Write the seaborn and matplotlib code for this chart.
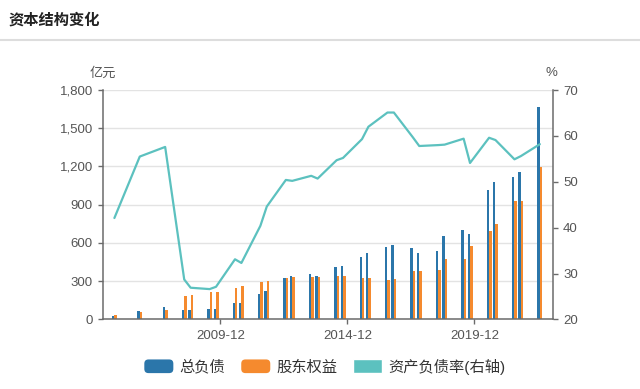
import pandas as pd
import numpy as np
import matplotlib
matplotlib.use('Agg')
import matplotlib.pyplot as plt
import seaborn as sns
from matplotlib.patches import Patch, FancyBboxPatch
from matplotlib.legend_handler import HandlerPatch
from matplotlib.lines import Line2D
from matplotlib.ticker import FuncFormatter

# report dates
dates = ['2005-09-30', '2006-09-30', '2007-09-30',
         '2008-06-30', '2008-09-30', '2009-06-30', '2009-09-30',
         '2010-06-30', '2010-09-30', '2011-06-30', '2011-09-30',
         '2012-06-30', '2012-09-30', '2013-06-30', '2013-09-30',
         '2014-06-30', '2014-09-30', '2015-06-30', '2015-09-30',
         '2016-06-30', '2016-09-30', '2017-06-30', '2017-09-30',
         '2018-06-30', '2018-09-30', '2019-06-30', '2019-09-30',
         '2020-06-30', '2020-09-30', '2021-06-30', '2021-09-30',
         '2022-06-30']
# 总负债 (亿元)
debt = [26, 68, 99, 73, 73, 78, 83, 125, 128, 196, 222, 327, 337, 353, 340,
        408, 416, 487, 523, 565, 583, 562, 520, 536, 656, 698, 670, 1018, 1075,
        1120, 1156, 1669]
# 股东权益 (亿元)
equity = [36, 55, 73, 183, 193, 217, 217, 248, 261, 293, 303, 322, 335, 335, 332,
          337, 337, 327, 322, 306, 314, 382, 382, 387, 473, 476, 573, 691, 750,
          926, 926, 1198]
# 资产负债率 (%)
ratio = [42.1, 55.5, 57.6, 28.7, 26.9, 26.6, 27.1, 33.1, 32.3, 40.4, 44.6, 50.4,
         50.2, 51.3, 50.7, 54.7, 55.2, 59.3, 62.0, 65.1, 65.1, 59.7, 57.8, 58.0,
         58.1, 59.4, 54.1, 59.6, 59.1, 54.9, 55.6, 58.2]

tick_dates = ['2009-12-01', '2014-12-01', '2019-12-01']
tick_labels = ['2009-12', '2014-12', '2019-12']
series_names = ['总负债', '股东权益', '资产负债率(右轴)']

blue = '#2B76AA'
orange = '#F58A2E'
teal = '#5CC1BF'


def to_year(s):
    d = pd.to_datetime(pd.Series(s))
    return (d - pd.Timestamp('2000-01-01')).dt.days / 365.25 + 2000


t = to_year(dates).values
df = pd.DataFrame({
    't': np.concatenate([t, t]),
    'value': debt + equity,
    'series': [series_names[0]] * len(t) + [series_names[1]] * len(t),
})
line_df = pd.DataFrame({'t': t, 'ratio': ratio})

sns.set_style('white')
plt.rcParams['font.family'] = ['Liberation Sans', 'Noto Sans CJK SC']
plt.rcParams['axes.unicode_minus'] = False

fig = plt.figure(figsize=(6.4, 3.89), dpi=100)
ax = fig.add_axes([0.1614, 0.179, 0.7022, 0.5895])

sns.barplot(data=df, x='t', y='value', hue='series', native_scale=True,
            hue_order=series_names[:2], palette=[blue, orange], saturation=1,
            errorbar=None, width=0.78, linewidth=0, legend=False, ax=ax)

ax2 = ax.twinx()
sns.lineplot(data=line_df, x='t', y='ratio', color=teal, linewidth=1.6, ax=ax2)

xl = (2005.31, 2023.0)
ax.set_xlim(xl)
ax2.set_xlim(xl)
ax.set_ylim(0, 1800)
ax.set_yticks(range(0, 1801, 300))
ax.yaxis.set_major_formatter(FuncFormatter(lambda v, p: f'{int(v):,}'))
ax2.set_ylim(20, 70)
ax2.set_yticks(range(20, 71, 10))
ax.set_xticks(to_year(tick_dates).values)
ax.set_xticklabels(tick_labels)
ax.set_xlabel('')
ax.set_ylabel('')
ax2.set_xlabel('')
ax2.set_ylabel('')

ax.yaxis.grid(True, color='#E3E3E3', linewidth=1)
ax.set_axisbelow(True)

axis_col = '#6B6B6B'
for a in (ax, ax2):
    for s in a.spines.values():
        s.set_visible(False)
ax.spines['left'].set_visible(True)
ax.spines['bottom'].set_visible(True)
ax2.spines['right'].set_visible(True)
for s in (ax.spines['left'], ax.spines['bottom'], ax2.spines['right']):
    s.set_color(axis_col)
    s.set_linewidth(1.1)

ax.tick_params(axis='y', left=True, length=3.5, width=1, color=axis_col,
               labelsize=9.5, labelcolor='#555555', pad=4)
ax.tick_params(axis='x', bottom=True, length=3.5, width=1, color=axis_col,
               labelsize=9.5, labelcolor='#555555', pad=4)
ax2.tick_params(axis='y', right=True, length=3.5, width=1, color=axis_col,
                labelsize=9.5, labelcolor='#555555', pad=4)

# title and header line
fig.text(0.013, 1 - 20.5 / 389, '资本结构变化', fontsize=11, fontweight='bold',
         color='#222222', va='center', ha='left')
fig.add_artist(Line2D([0, 1], [1 - 40 / 389] * 2, color='#DDDDDD', linewidth=1.5,
                      transform=fig.transFigure))
fig.text(103 / 640, 1 - 74 / 389, '亿元', fontsize=9.5, color='#555555',
         ha='center', va='center')
fig.text(551 / 640, 1 - 73 / 389, '%', fontsize=9.5, color='#555555',
         ha='center', va='center')


class RoundHandler(HandlerPatch):
    def create_artists(self, legend, orig_handle, xdescent, ydescent, width,
                       height, fontsize, trans):
        p = FancyBboxPatch((-xdescent, -ydescent), width, height,
                           boxstyle='round,pad=0,rounding_size=3',
                           facecolor=orig_handle.get_facecolor(),
                           edgecolor='none', transform=trans)
        return [p]


h1 = Patch(facecolor=blue)
h2 = Patch(facecolor=orange)
h3 = Patch(facecolor=teal)
fig.legend([h1, h2, h3], series_names, loc='center',
           bbox_to_anchor=(325 / 640, 1 - 366.5 / 389), ncol=3, frameon=False,
           fontsize=11, handlelength=1.9, handleheight=1.0,
           handletextpad=0.4, columnspacing=1.05, labelcolor='#333333',
           handler_map={h1: RoundHandler(), h2: RoundHandler()})

fig.savefig('out.png', dpi=100)
